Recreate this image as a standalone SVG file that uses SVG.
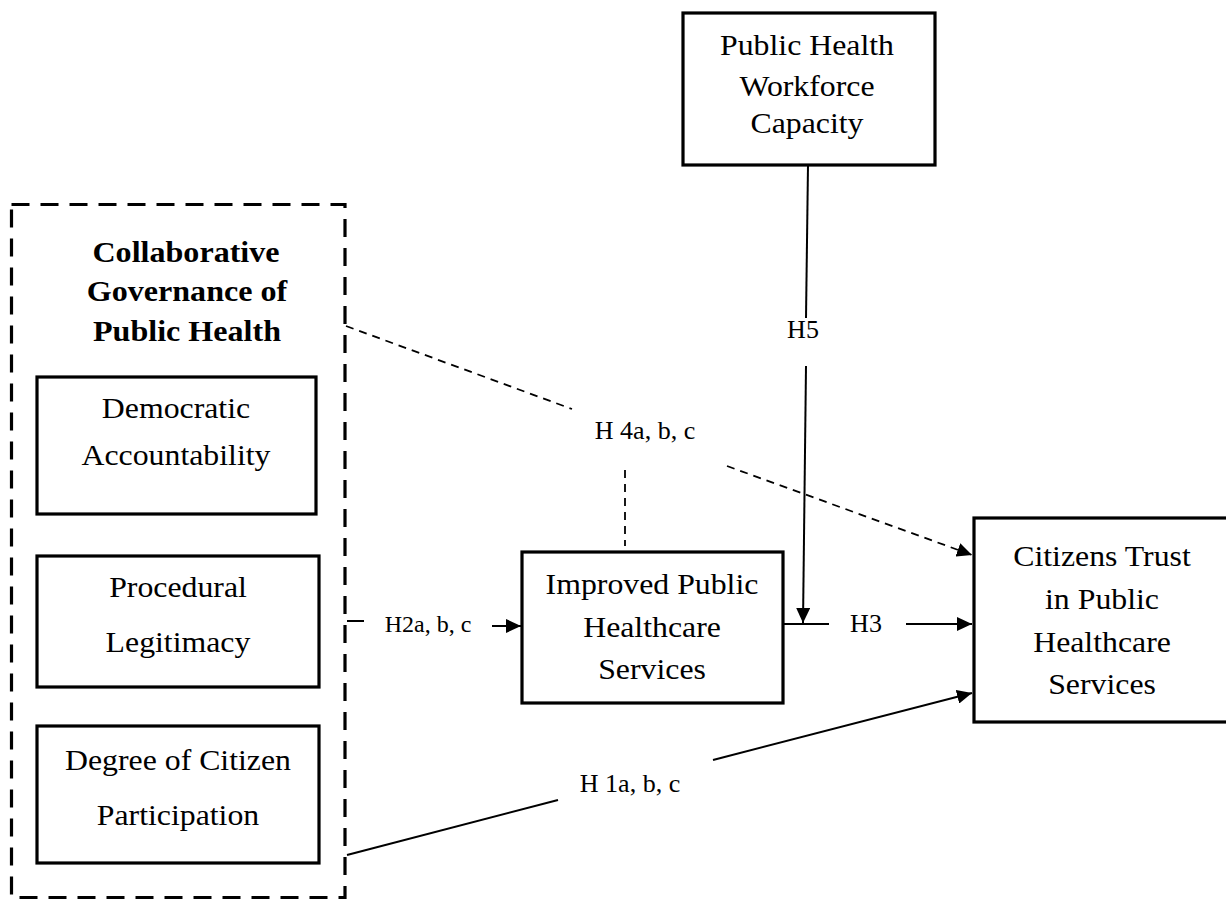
<svg xmlns="http://www.w3.org/2000/svg" width="1226" height="900" viewBox="0 0 1226 900">
<style>
.box{fill:#fff;stroke:#000;stroke-width:3.2}
.grp{fill:none;stroke:#000;stroke-width:3.2;stroke-dasharray:18 11}
.t{font-family:"Liberation Serif","Times New Roman",serif;font-size:30px;fill:#000;text-anchor:middle}
.b{font-weight:bold}
.lbl{font-family:"Liberation Serif","Times New Roman",serif;font-size:26px;fill:#000;text-anchor:middle}
.ln{fill:none;stroke:#000;stroke-width:2}
.dl{fill:none;stroke:#000;stroke-width:1.8;stroke-dasharray:8 6}
</style>
<defs>
<marker id="ah" markerUnits="userSpaceOnUse" markerWidth="16" markerHeight="14" refX="15" refY="7" orient="auto">
<path d="M0,0 L15,7 L0,14 z" fill="#000"/>
</marker>
</defs>
<rect width="1226" height="900" fill="#fff"/>
<g id="collaborative-governance">
<rect class="grp" x="11.5" y="204.5" width="333.5" height="693"/>
<text class="t b" transform="matrix(1.07 0 0 1 186 0)" x="0" y="262">Collaborative</text>
<text class="t b" transform="matrix(1.07 0 0 1 187 0)" x="0" y="301">Governance of</text>
<text class="t b" transform="matrix(1.07 0 0 1 187 0)" x="0" y="341">Public Health</text>
</g>
<g id="democratic-accountability">
<rect class="box" x="37" y="377" width="279" height="137"/>
<text class="t" transform="matrix(1.06 0 0 1 176 0)" x="0" y="418">Democratic</text>
<text class="t" transform="matrix(1.06 0 0 1 176 0)" x="0" y="465">Accountability</text>
</g>
<g id="procedural-legitimacy">
<rect class="box" x="37" y="556" width="282" height="131"/>
<text class="t" transform="matrix(1.06 0 0 1 178 0)" x="0" y="597">Procedural</text>
<text class="t" transform="matrix(1.06 0 0 1 178 0)" x="0" y="652">Legitimacy</text>
</g>
<g id="citizen-participation">
<rect class="box" x="37" y="726" width="282" height="137"/>
<text class="t" transform="matrix(1.06 0 0 1 178 0)" x="0" y="770">Degree of Citizen</text>
<text class="t" transform="matrix(1.06 0 0 1 178 0)" x="0" y="825">Participation</text>
</g>
<g id="workforce-capacity">
<rect class="box" x="683" y="13" width="252" height="152"/>
<text class="t" transform="matrix(1.06 0 0 1 807 0)" x="0" y="55">Public Health</text>
<text class="t" transform="matrix(1.06 0 0 1 807 0)" x="0" y="96">Workforce</text>
<text class="t" transform="matrix(1.06 0 0 1 807 0)" x="0" y="133">Capacity</text>
</g>
<g id="improved-services">
<rect class="box" x="522" y="552" width="261" height="151"/>
<text class="t" transform="matrix(1.06 0 0 1 652 0)" x="0" y="594">Improved Public</text>
<text class="t" transform="matrix(1.06 0 0 1 652 0)" x="0" y="637">Healthcare</text>
<text class="t" transform="matrix(1.06 0 0 1 652 0)" x="0" y="679">Services</text>
</g>
<g id="citizens-trust">
<rect class="box" x="974" y="518" width="258" height="204"/>
<text class="t" transform="matrix(1.06 0 0 1 1102 0)" x="0" y="566">Citizens Trust</text>
<text class="t" transform="matrix(1.06 0 0 1 1102 0)" x="0" y="609">in Public</text>
<text class="t" transform="matrix(1.06 0 0 1 1102 0)" x="0" y="652">Healthcare</text>
<text class="t" transform="matrix(1.06 0 0 1 1102 0)" x="0" y="694">Services</text>
</g>
<g id="connectors">
<line class="dl" x1="346" y1="326" x2="572" y2="409"/>
<line class="dl" x1="727" y1="466" x2="972" y2="555" marker-end="url(#ah)"/>
<line class="dl" x1="625" y1="470" x2="625" y2="546"/>
<text class="lbl" x="645" y="439">H 4a, b, c</text>
<line class="ln" x1="347" y1="621" x2="364" y2="621"/>
<text class="lbl" x="428" y="632" style="font-size:24px">H2a, b, c</text>
<line class="ln" x1="492" y1="626" x2="521" y2="626" marker-end="url(#ah)"/>
<line class="ln" x1="783" y1="624" x2="829" y2="624"/>
<text class="lbl" x="866" y="632">H3</text>
<line class="ln" x1="906" y1="624" x2="972" y2="624" marker-end="url(#ah)"/>
<line class="ln" x1="808" y1="165" x2="806" y2="318"/>
<text class="lbl" x="803" y="338">H5</text>
<line class="ln" x1="806" y1="366" x2="803" y2="623" marker-end="url(#ah)"/>
<line class="ln" x1="347" y1="855" x2="558" y2="800"/>
<text class="lbl" x="630" y="792">H 1a, b, c</text>
<line class="ln" x1="713" y1="760" x2="972" y2="693" marker-end="url(#ah)"/>
</g>
</svg>
